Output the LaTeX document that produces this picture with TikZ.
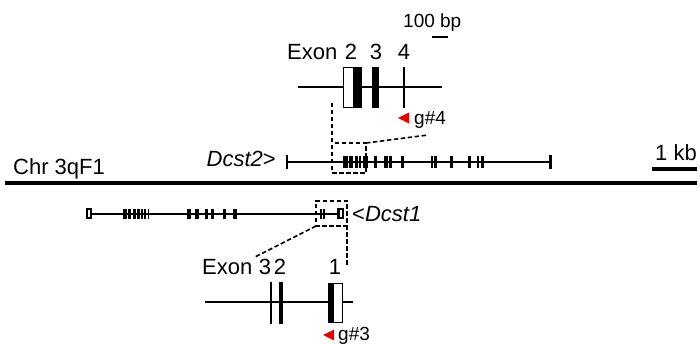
\documentclass[tikz,border=0pt]{standalone}
\usepackage{fontspec}
\setmainfont{Liberation Sans}
\definecolor{guideRed}{RGB}{232,0,0}
\begin{document}
\begin{tikzpicture}[x=1pt,y=-1pt,
      lbl/.style={font=\fontsize{22}{24}\selectfont, inner sep=0pt},
      small/.style={font=\fontsize{19}{21}\selectfont, inner sep=0pt},
      gene/.style={line width=2.4pt},
      chrom/.style={line width=4pt},
      exon/.style={fill=black},
      utr/.style={draw=black, fill=white, line width=1.5pt},
      zoomline/.style={line width=1.6pt, dash pattern=on 4.5pt off 2.5pt},
      guide/.style={fill=guideRed}]
      \useasboundingbox (0,0) rectangle (699,344);

      % chromosome
      \coordinate (chrL) at (5,183);
      \coordinate (chrR) at (697,183);
      \draw[chrom] (chrL) -- (chrR);
      \node[lbl, anchor=base west] (chrLabel) at (13,175) {Chr 3qF1};
      \coordinate (kbL) at (652,169);
      \coordinate (kbR) at (697,169);
      \draw[line width=3.2pt] (kbL) -- (kbR);
      \node[lbl, anchor=base west] (kbLabel) at (655,161) {1 kb};

      % Dcst2 gene
      \coordinate (dcstTwoL) at (286,162);
      \coordinate (dcstTwoR) at (551,162);
      \draw[gene] (dcstTwoL) -- (dcstTwoR);
      \draw[line width=2.4pt] (287,155) -- (287,169);
      \draw[line width=3pt] (550.5,155) -- (550.5,169);
      \foreach \a/\b in {342.5/347.5,348.5/352.5,355/357.5,358.5/361,
          363/367.5,374/376.5,384/387.5,389/391.5,400.5/403.5,430.5/433,
          434/436.5,449.5/452.5,467.5/470.5,476.5/479,480.5/483.5}{
        \fill[exon] (\a,156) rectangle (\b,168);}
      \node[lbl, anchor=base east] (dcstTwoLabel) at (276,167) {\textit{Dcst2}>};

      % Dcst1 gene
      \coordinate (dcstOneL) at (86,214);
      \coordinate (dcstOneR) at (342,214);
      \draw[gene] (dcstOneL) -- (dcstOneR);
      \filldraw[utr, line width=2pt] (86.5,209.5) rectangle (91,218.5);
      \foreach \a/\b in {123/126.5,127.5/130.5,133/135.5,137/139.5,141/143,
          144/146,147.5/149,187/190.5,195/198.5,204.5/208,210.5/213.5,
          223/225.5,233/236.5,319.5/321.5,322.5/324.5}{
        \fill[exon] (\a,209) rectangle (\b,219);}
      \filldraw[utr, line width=2pt] (337.5,209.5) rectangle (342.5,218.5);
      \fill[exon] (337,209) rectangle (340,219);
      \node[lbl, anchor=base west] (dcstOneLabel) at (352,222) {<\textit{Dcst1}};

      % inset exons 2-4 of Dcst2
      \node[small, anchor=base west] (bpLabel) at (403,28) {100 bp};
      \coordinate (bpL) at (432,37);
      \coordinate (bpR) at (448,37);
      \draw[line width=2.6pt] (bpL) -- (bpR);
      \node[lbl, anchor=base west] (exonTop) at (287,60) {Exon};
      \node[lbl, anchor=base] (exTwo) at (351,60) {2};
      \node[lbl, anchor=base] (exThree) at (376,60) {3};
      \node[lbl, anchor=base] (exFour) at (404,60) {4};
      \coordinate (insetTopL) at (298,87);
      \coordinate (insetTopR) at (442,87);
      \draw[gene] (insetTopL) -- (insetTopR);
      \filldraw[utr] (343.5,67.5) rectangle (361.5,107.5);
      \fill[exon] (353,67) rectangle (362,108);
      \fill[exon] (372,67) rectangle (379,108);
      \draw[line width=2.4pt] (404,67) -- (404,108);
      \fill[guide] (398,118) -- (409,112.5) -- (409,123.5) -- cycle;
      \node[small, anchor=base west] (gFour) at (414,125) {g\#4};

      % zoom lines, top
      \coordinate (boxTopA) at (332,143);
      \coordinate (boxTopB) at (366,173);
      \coordinate (zoomTopStart) at (332,103);
      \coordinate (zoomTopEnd) at (428,135);
      \draw[zoomline] (zoomTopStart) -- (boxTopA |- boxTopB) -- (boxTopB)
        -- (boxTopB |- boxTopA) -- (boxTopA);
      \draw[zoomline] (boxTopB |- boxTopA) -- (zoomTopEnd);

      % inset exons 1-3 of Dcst1
      \node[lbl, anchor=base west] (exonBot) at (202,275) {Exon};
      \node[lbl, anchor=base] (exThreeB) at (265,275) {3};
      \node[lbl, anchor=base] (exTwoB) at (280,275) {2};
      \node[lbl, anchor=base] (exOneB) at (335,275) {1};
      \coordinate (insetBotL) at (205,302);
      \coordinate (insetBotR) at (353,302);
      \draw[gene] (insetBotL) -- (insetBotR);
      \draw[line width=1.8pt] (271,282) -- (271,324);
      \draw[line width=3.2pt] (281,282) -- (281,324);
      \filldraw[utr] (328.5,283.5) rectangle (342.5,322.5);
      \fill[exon] (328,283) rectangle (334,323);
      \fill[guide] (323,335) -- (334,329.5) -- (334,340.5) -- cycle;
      \node[small, anchor=base west] (gThree) at (338,341) {g\#3};

      % zoom lines, bottom
      \coordinate (boxBotA) at (316,201);
      \coordinate (boxBotB) at (347,226);
      \coordinate (zoomBotStart) at (347,265);
      \coordinate (zoomBotEnd) at (255,257);
      \draw[zoomline] (zoomBotStart) -- (boxBotB |- boxBotA) -- (boxBotA)
        -- (boxBotA |- boxBotB) -- (boxBotB);
      \draw[zoomline] (boxBotA |- boxBotB) -- (zoomBotEnd);
    \end{tikzpicture}
\end{document}
